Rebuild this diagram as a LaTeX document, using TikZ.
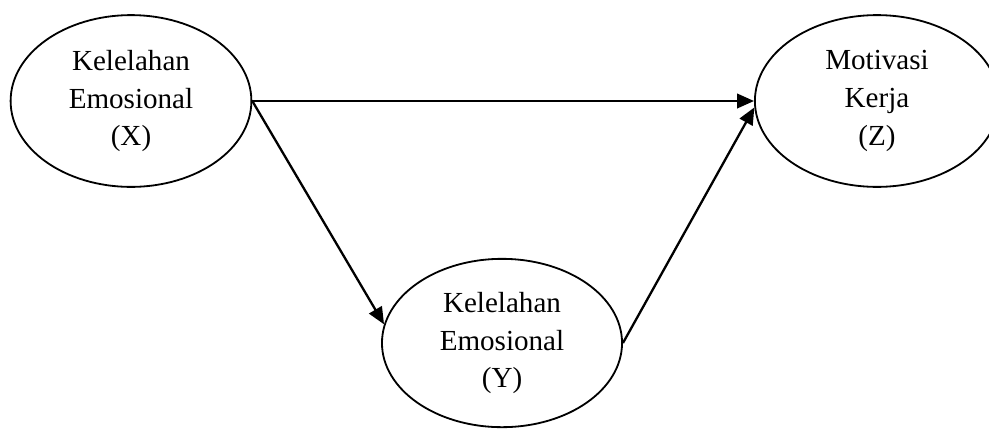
\documentclass[tikz,border=0pt]{standalone}
\usepackage{fontspec}
\setmainfont{Liberation Serif}
\usepackage{xcolor}
\usepackage{tikz}
\usetikzlibrary{arrows.meta,positioning,shapes.geometric}

\begin{document}
\begin{tikzpicture}[x=0.0145cm,y=0.0145cm,
  var/.style={draw,ellipse,line width=0.75pt,inner sep=0pt,align=center,
    font=\fontsize{12}{15.6}\selectfont},
  path/.style={line width=0.95pt,-{Triangle[length=7pt,width=6pt]}}]
\useasboundingbox (0,0) rectangle (989,428);
\node[var,minimum width=3.49cm,minimum height=2.49cm] (X) at (131,327) {Kelelahan\\Emosional\\(X)};
\node[var,minimum width=3.54cm,minimum height=2.49cm] (Z) at (877,327) {Motivasi\\Kerja\\(Z)};
\node[var,minimum width=3.48cm,minimum height=2.44cm] (Y) at (502,85) {Kelelahan\\Emosional\\(Y)};
\draw[path] (X.east) -- (Z.west);
\draw[path] (X.east) -- (Y.171);
\draw[path] (Y.east) -- (Z.183);
\end{tikzpicture}
\end{document}
